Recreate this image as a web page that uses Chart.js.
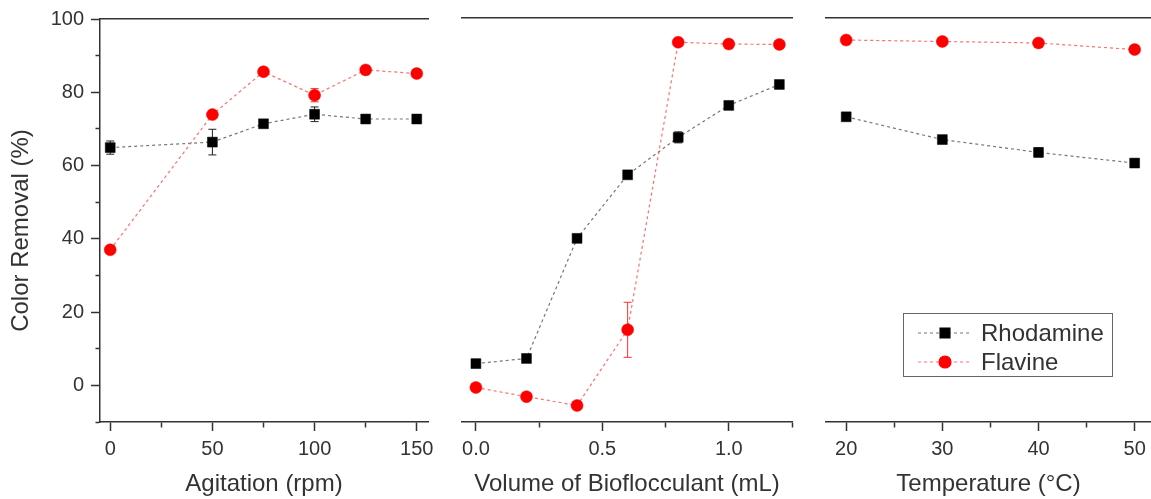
<!DOCTYPE html>
<html>
<head>
<meta charset="utf-8">
<script src="https://cdn.jsdelivr.net/npm/chart.js@4.4.1/dist/chart.umd.min.js"></script>
<style>
  html, body { margin: 0; padding: 0; background: #fff; }
  #wrap { position: relative; width: 1151px; height: 499px; }
  #wrap canvas { position: absolute; left: 0; top: 0; }
</style>
</head>
<body>
<div id="wrap">
  <canvas id="c1" width="1151" height="499"></canvas>
  <canvas id="c2" width="1151" height="499"></canvas>
  <canvas id="c3" width="1151" height="499"></canvas>
</div>
<script>
// panel 1 - agitation
const agitation = [0, 50, 75, 100, 125, 150];
const agitationRhodamine = [64.9, 66.4, 71.4, 74.0, 72.7, 72.7];
const agitationRhodamineErr = [1.8, 3.5, 1, 2, 1, 1.2];
const agitationFlavine = [37.0, 73.9, 85.6, 79.2, 86.1, 85.1];
const agitationFlavineErr = [0.8, 1, 1, 1.8, 1, 1];

// panel 2 - volume of bioflocculant
const volume = [0, 0.2, 0.4, 0.6, 0.8, 1.0, 1.2];
const volumeRhodamine = [5.9, 7.3, 40.0, 57.3, 67.5, 76.2, 81.9];
const volumeRhodamineErr = [0.5, 0.5, 0.8, 0.8, 1.5, 0.8, 0.8];
const volumeFlavine = [-0.6, -3.1, -5.5, 15.1, 93.4, 92.9, 92.8];
const volumeFlavineErr = [0.5, 0.5, 0.5, 7.5, 0.6, 0.6, 0.6];

// panel 3 - temperature
const temperature = [20, 30, 40, 50];
const temperatureRhodamine = [73.1, 66.9, 63.4, 60.5];
const temperatureRhodamineErr = [0.8, 0.8, 1.2, 0.8];
const temperatureFlavine = [94.0, 93.6, 93.2, 91.4];
const temperatureFlavineErr = [0.5, 0.5, 0.5, 0.8];

// tick labels
const yMajor = [0, 20, 40, 60, 80, 100];
const yMinor = [-10, 10, 30, 50, 70, 90];
const agitationMajor = [0, 50, 100, 150];
const agitationMinor = [25, 75, 125];
const volumeMajor = [0, 0.5, 1.0];
const volumeMinor = [0.25, 0.75, 1.25];
const temperatureMajor = [20, 30, 40, 50];
const temperatureMinor = [25, 35, 45];

const seriesNames = ['Rhodamine', 'Flavine'];

const FONT = 'Arial, "Liberation Sans", sans-serif';
const INK = '#333';

function pts(xs, ys) {
  return xs.map((x, i) => ({ x: x, y: ys[i] }));
}

function makeDatasets(xs, rh, rhErr, fl, flErr) {
  return [
    {
      label: seriesNames[0],
      data: pts(xs, rh),
      errors: rhErr,
      errorColor: '#222',
      borderColor: '#777',
      borderWidth: 1.2,
      borderDash: [3, 3],
      pointStyle: 'rect',
      pointRadius: 7,
      pointBackgroundColor: '#000',
      pointBorderColor: '#000',
      pointBorderWidth: 0.5,
      tension: 0
    },
    {
      label: seriesNames[1],
      data: pts(xs, fl),
      errors: flErr,
      errorColor: '#ff3030',
      borderColor: '#ff7070',
      borderWidth: 1.2,
      borderDash: [3, 3],
      pointStyle: 'circle',
      pointRadius: 6,
      pointBackgroundColor: '#ff0000',
      pointBorderColor: '#ff0000',
      pointBorderWidth: 0.5,
      tension: 0
    }
  ];
}

const errorBars = {
  id: 'errorBars',
  beforeDatasetsDraw(chart) {
    const ctx = chart.ctx;
    const ys = chart.scales.y;
    chart.data.datasets.forEach((ds, i) => {
      if (!ds.errors) return;
      const meta = chart.getDatasetMeta(i);
      ctx.save();
      ctx.strokeStyle = ds.errorColor;
      ctx.lineWidth = 1;
      ds.data.forEach((p, j) => {
        const e = ds.errors[j];
        if (!e) return;
        const x = meta.data[j].x;
        const top = ys.getPixelForValue(p.y + e);
        const bot = ys.getPixelForValue(p.y - e);
        ctx.beginPath();
        ctx.moveTo(x, top); ctx.lineTo(x, bot);
        ctx.moveTo(x - 4, top); ctx.lineTo(x + 4, top);
        ctx.moveTo(x - 4, bot); ctx.lineTo(x + 4, bot);
        ctx.stroke();
      });
      ctx.restore();
    });
  }
};

// framed legend inside the last panel
const boxLegend = {
  id: 'boxLegend',
  afterDraw(chart, args, opts) {
    if (!opts.show) return;
    const ctx = chart.ctx;
    const a = chart.chartArea;
    const x0 = chart.width - 248, y0 = a.bottom - 109, w = 209, h = 63;
    ctx.save();
    ctx.strokeStyle = '#666';
    ctx.lineWidth = 1;
    ctx.strokeRect(x0 + 0.5, y0 + 0.5, w, h);
    chart.data.datasets.forEach((ds, i) => {
      const cy = y0 + 20 + i * 29;
      ctx.strokeStyle = ds.borderColor;
      ctx.lineWidth = 1.2;
      ctx.setLineDash([3, 3]);
      ctx.beginPath();
      ctx.moveTo(x0 + 15, cy); ctx.lineTo(x0 + 66, cy);
      ctx.stroke();
      ctx.setLineDash([]);
      ctx.fillStyle = ds.pointBackgroundColor;
      ctx.strokeStyle = ds.pointBorderColor;
      Chart.helpers.drawPoint(ctx, { pointStyle: ds.pointStyle, radius: ds.pointRadius, borderWidth: 0.5 }, x0 + 42, cy);
      ctx.fillStyle = INK;
      ctx.font = '24px ' + FONT;
      ctx.textBaseline = 'middle';
      ctx.textAlign = 'left';
      ctx.fillText(ds.label, x0 + 78, cy + 1);
    });
    ctx.restore();
  }
};

function tickSetter(major, minor) {
  return function (scale) {
    scale.ticks = major.concat(minor).sort((a, b) => a - b).map(v => ({ value: v }));
  };
}

function panel(id, p) {
  const isMajorX = v => p.xMajor.includes(v);
  const isMajorY = v => yMajor.includes(v);
  return new Chart(document.getElementById(id), {
    type: 'line',
    data: { datasets: makeDatasets(p.xs, p.rh, p.rhErr, p.fl, p.flErr) },
    plugins: [errorBars, boxLegend],
    options: {
      responsive: false,
      animation: false,
      events: [],
      layout: {
        autoPadding: false,
        padding: { left: p.padLeft, right: p.padRight, top: 18, bottom: 0 }
      },
      plugins: {
        legend: { display: false },
        tooltip: { enabled: false },
        boxLegend: { show: p.legend }
      },
      scales: {
        x: {
          type: 'linear',
          position: 'bottom',
          min: p.min,
          max: p.max,
          afterBuildTicks: tickSetter(p.xMajor, p.xMinor),
          afterFit: s => { s.height = 77; s.paddingLeft = 0; s.paddingRight = 0; },
          border: { display: true, color: INK, width: 1.5 },
          grid: {
            display: true,
            drawOnChartArea: false,
            drawTicks: true,
            tickLength: 9,
            tickColor: INK,
            tickWidth: 1.5,
            tickBorderDash: c => (c.tick && isMajorX(c.tick.value)) ? [] : [5, 100]
          },
          ticks: {
            autoSkip: false,
            maxRotation: 0,
            padding: 6,
            color: INK,
            font: { family: FONT, size: 20 },
            callback: v => isMajorX(v) ? p.fmt(v) : ''
          },
          title: {
            display: true,
            text: p.title,
            color: INK,
            padding: { top: 0, bottom: 0 },
            font: { family: FONT, size: 24 }
          }
        },
        xt: {
          type: 'linear',
          position: 'top',
          min: p.min,
          max: p.max,
          afterFit: s => { s.height = 0; s.paddingLeft = 0; s.paddingRight = 0; },
          border: { display: true, color: INK, width: 1.5 },
          grid: { display: false },
          ticks: { display: false }
        },
        y: {
          display: p.showY,
          min: -10,
          max: 100,
          afterBuildTicks: tickSetter(yMajor, yMinor),
          afterFit: s => { s.width = p.showY ? 100 : 0; },
          border: { display: true, color: INK, width: 1.5 },
          grid: {
            display: true,
            drawOnChartArea: false,
            drawTicks: true,
            tickLength: 9,
            tickColor: INK,
            tickWidth: 1.5,
            tickBorderDash: c => (c.tick && isMajorY(c.tick.value)) ? [] : [0, 4.5, 5, 100]
          },
          ticks: {
            autoSkip: false,
            padding: 7,
            color: INK,
            font: { family: FONT, size: 20 },
            callback: v => isMajorY(v) ? String(v) : ''
          },
          title: {
            display: true,
            text: 'Color Removal (%)   ',
            color: INK,
            padding: { top: 7, bottom: 0 },
            font: { family: FONT, size: 24 }
          }
        }
      }
    }
  });
}

panel('c1', {
  xs: agitation, rh: agitationRhodamine, rhErr: agitationRhodamineErr,
  fl: agitationFlavine, flErr: agitationFlavineErr,
  min: -5, max: 155.5, xMajor: agitationMajor, xMinor: agitationMinor,
  fmt: v => String(v), title: 'Agitation (rpm)',
  padLeft: 0, padRight: 1151 - 428, showY: true, legend: false
});

panel('c2', {
  xs: volume, rh: volumeRhodamine, rhErr: volumeRhodamineErr,
  fl: volumeFlavine, flErr: volumeFlavineErr,
  min: -0.055, max: 1.25, xMajor: volumeMajor, xMinor: volumeMinor,
  fmt: v => v.toFixed(1), title: 'Volume of Bioflocculant (mL)',
  padLeft: 462, padRight: 1151 - 792, showY: false, legend: false
});

panel('c3', {
  xs: temperature, rh: temperatureRhodamine, rhErr: temperatureRhodamineErr,
  fl: temperatureFlavine, flErr: temperatureFlavineErr,
  min: 17.9, max: 51.7, xMajor: temperatureMajor, xMinor: temperatureMinor,
  fmt: v => String(v), title: 'Temperature (°C)',
  padLeft: 826, padRight: 0, showY: false, legend: true
});
</script>
</body>
</html>
